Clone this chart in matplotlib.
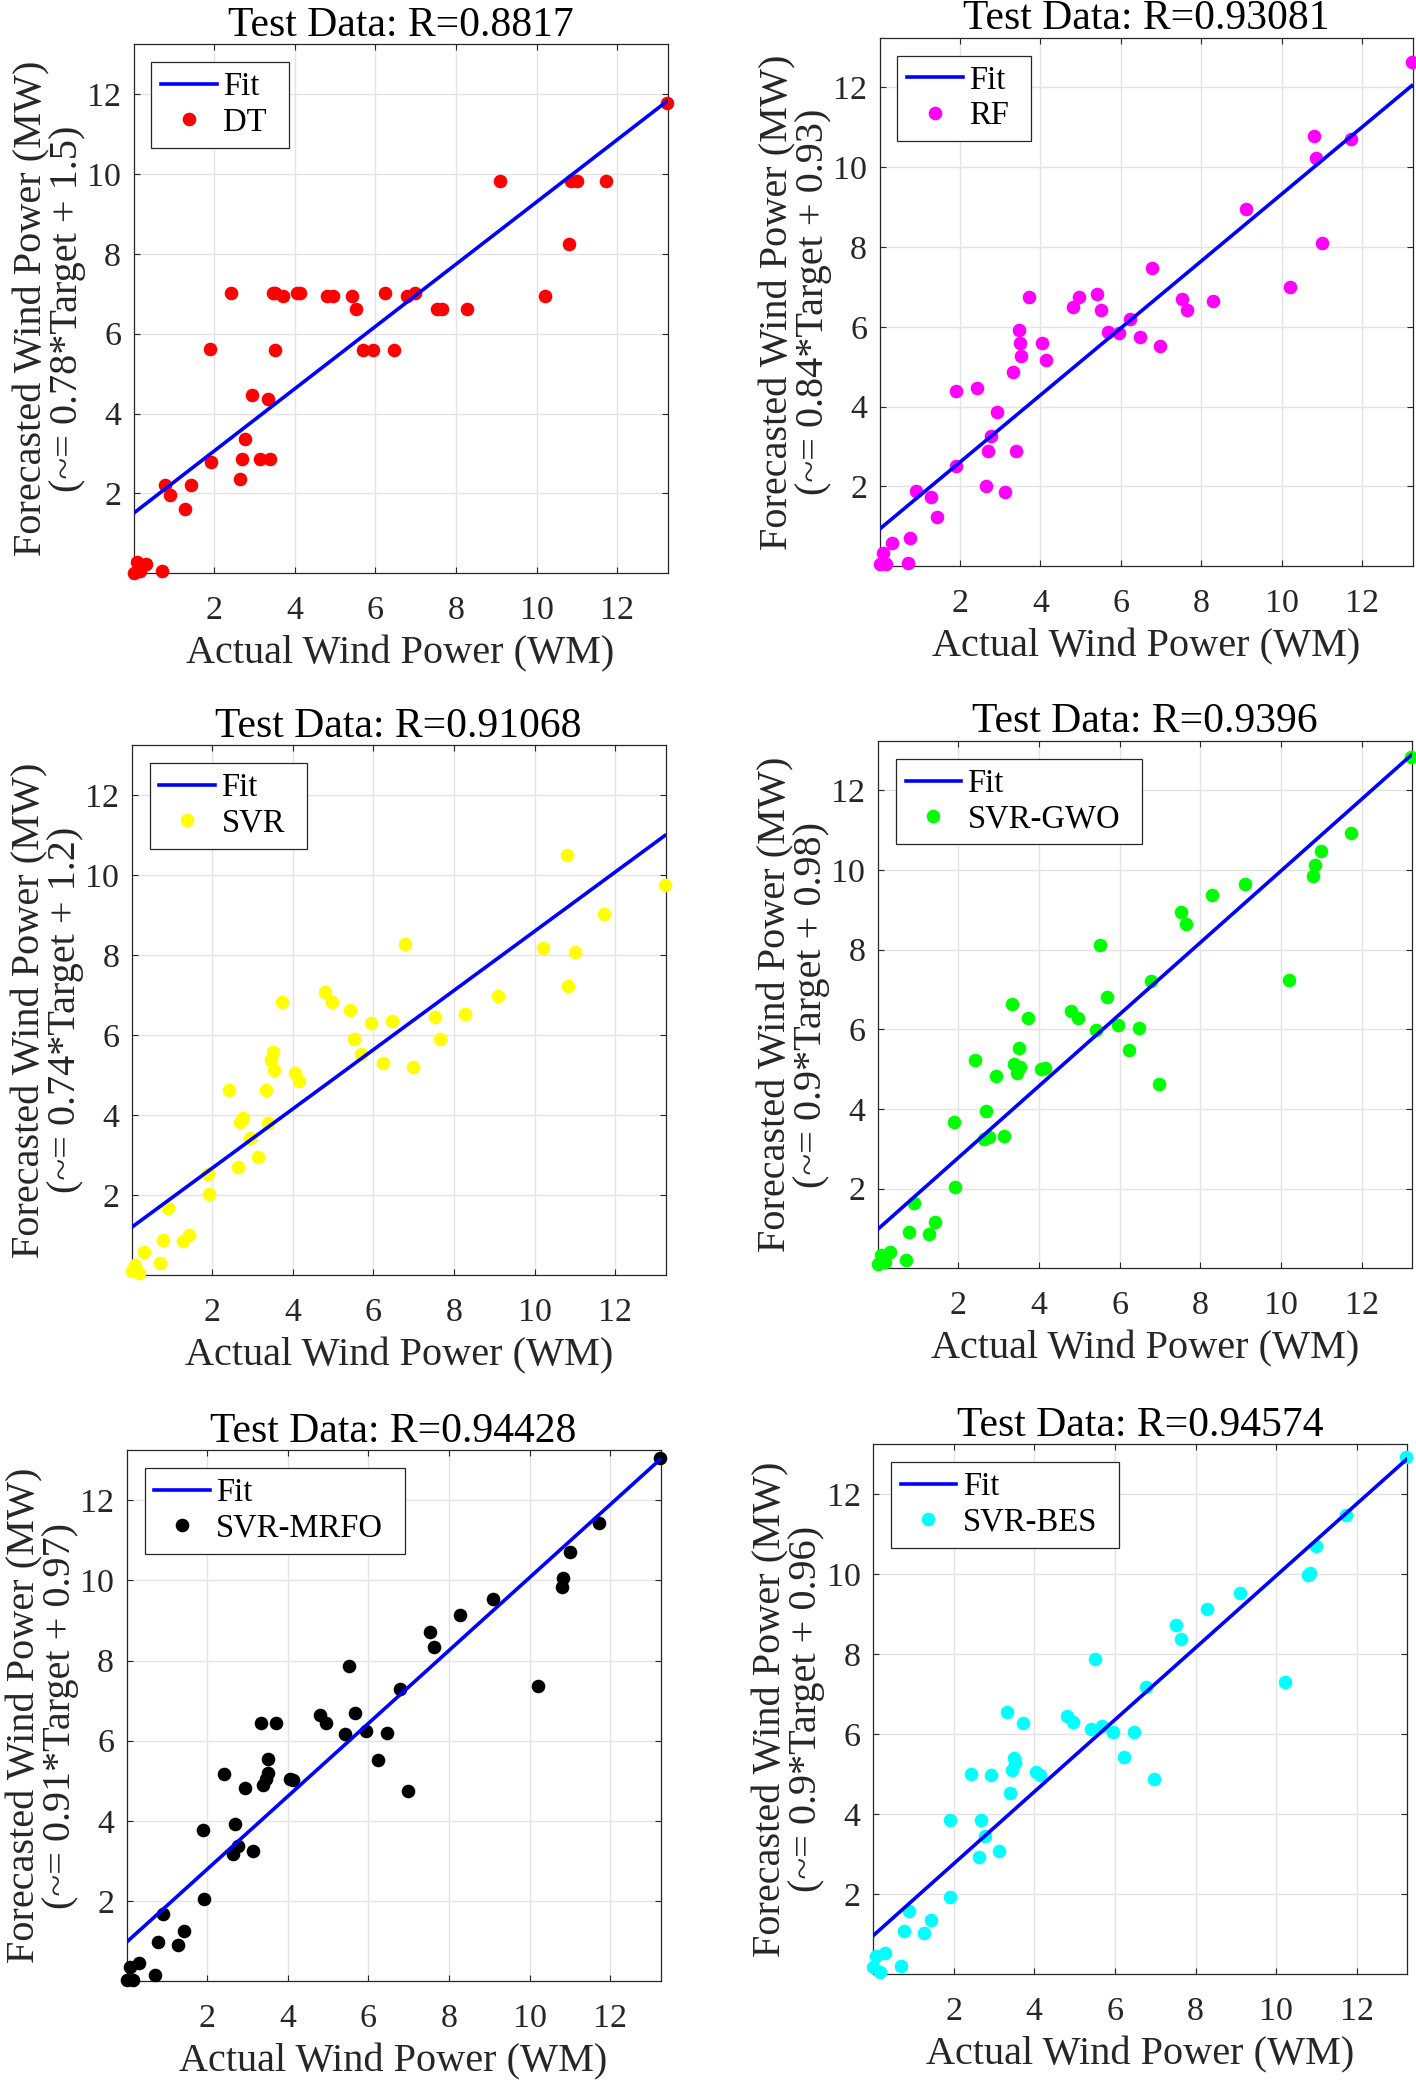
import numpy as np
import matplotlib
matplotlib.use("Agg")
import matplotlib.pyplot as plt

plt.rcParams['font.family'] = ['Liberation Serif', 'DejaVu Serif']

# ---------------- data ----------------
target = [0.00, 0.08, 0.17, 0.31, 0.70, 0.77, 0.90, 1.27, 1.43, 1.90, 1.91, 2.42, 2.64, 2.69,
          2.77, 2.93, 3.13, 3.33, 3.39, 3.46, 3.50, 3.52, 3.72, 4.05, 4.14, 4.80, 4.96, 5.41,
          5.51, 5.68, 5.95, 6.23, 6.47, 6.78, 6.98, 7.52, 7.64, 8.28, 9.10, 10.21, 10.80,
          10.84, 11.00, 11.73, 13.23]

dt = [0.00, 0.28, 0.06, 0.22, 0.06, 2.21, 1.97, 1.62, 2.21, 5.62, 2.78, 7.02, 2.37, 2.85,
      3.37, 4.47, 2.85, 4.37, 2.85, 7.02, 5.60, 7.02, 6.95, 7.02, 7.02, 6.95, 6.95, 6.95,
      6.62, 5.60, 5.60, 7.02, 5.60, 6.95, 7.02, 6.62, 6.62, 6.62, 9.83, 6.95, 8.24,
      9.83, 9.83, 9.83, 11.77]

rf = [0.05, 0.34, 0.05, 0.59, 0.09, 0.72, 1.89, 1.74, 1.24, 4.40, 2.52, 4.48, 2.00, 2.90,
      3.26, 3.86, 1.87, 4.87, 2.90, 5.92, 5.60, 5.27, 6.76, 5.60, 5.16, 6.50, 6.76, 6.83,
      6.42, 5.88, 5.84, 6.21, 5.74, 7.48, 5.52, 6.71, 6.42, 6.66, 8.96, 6.99, 10.78,
      10.24, 8.09, 10.71, 12.65]

svr = [0.10, 0.25, 0.05, 0.58, 0.30, 0.89, 1.69, 0.85, 1.00, 2.54, 2.03, 4.64, 2.70, 3.83,
       3.93, 3.42, 2.96, 4.63, 3.81, 5.39, 5.57, 5.14, 6.82, 5.06, 4.86, 7.07, 6.83, 6.63,
       5.90, 5.53, 6.30, 5.30, 6.36, 8.28, 5.20, 6.45, 5.90, 6.52, 6.97, 8.17, 10.50,
       7.24, 8.09, 9.02, 9.76]

gwo = [0.10, 0.33, 0.17, 0.41, 0.20, 0.92, 1.64, 0.87, 1.17, 3.68, 2.03, 5.23, 3.25, 3.94,
       3.30, 4.83, 3.33, 6.65, 5.12, 4.90, 5.54, 5.06, 6.28, 5.00, 5.02, 6.46, 6.29, 5.98,
       8.11, 6.81, 6.10, 5.47, 6.04, 7.21, 4.62, 8.94, 8.65, 9.37, 9.66, 7.25, 9.85,
       10.13, 10.48, 10.93, 12.85]

mrfo = [0.02, 0.34, 0.02, 0.44, 0.15, 0.97, 1.66, 0.91, 1.24, 3.78, 2.04, 5.17, 3.17, 3.91,
        3.37, 4.83, 3.25, 6.45, 4.89, 5.04, 5.20, 5.54, 6.43, 5.04, 5.02, 6.63, 6.45, 6.17,
        7.86, 6.70, 6.23, 5.52, 6.18, 7.28, 4.75, 8.71, 8.34, 9.14, 9.54, 7.37, 9.83,
        10.07, 10.72, 11.43, 13.06]

bes = [0.19, 0.45, 0.06, 0.52, 0.21, 1.08, 1.57, 1.02, 1.35, 3.86, 1.94, 5.00, 2.93, 3.85,
       3.46, 4.98, 3.07, 6.55, 4.52, 5.11, 5.40, 5.27, 6.29, 5.05, 4.97, 6.45, 6.30, 6.14,
       7.87, 6.21, 6.05, 5.43, 6.05, 7.17, 4.87, 8.72, 8.38, 9.14, 9.52, 7.31, 9.98,
       10.03, 10.71, 11.48, 12.94]

models = ['DT', 'RF', 'SVR', 'SVR-GWO', 'SVR-MRFO', 'SVR-BES']
outputs = [dt, rf, svr, gwo, mrfo, bes]
r_values = ['0.8817', '0.93081', '0.91068', '0.9396', '0.94428', '0.94574']
slopes = [0.78, 0.84, 0.74, 0.9, 0.91, 0.9]
intercepts = [1.5, 0.93, 1.2, 0.98, 0.97, 0.96]
intercept_txt = ['1.5', '0.93', '1.2', '0.98', '0.97', '0.96']
colors = ['#ff0000', '#ff00ff', '#ffff00', '#00ff00', '#000000', '#00ffff']
ticks = [2, 4, 6, 8, 10, 12]
tick_labels = ['2', '4', '6', '8', '10', '12']

# ---------------- layout (pixel boxes: left, top, right, bottom) ----------------
W, H = 1416, 2082
boxes = [(133.5, 44.2, 667.7, 573.2),
         (879.5, 37.6, 1412.5, 566.3),
         (131.7, 745.2, 665.6, 1275.3),
         (877.8, 740.7, 1412.0, 1268.3),
         (126.6, 1450.2, 660.5, 1981.0),
         (873.0, 1444.2, 1407.2, 1974.2)]

SERIF = ['Liberation Serif', 'DejaVu Serif']
fig = plt.figure(figsize=(W / 100, H / 100), dpi=100)
LIM = (0, 13.25)
leg_kw = dict(fontsize=23.5, frameon=True, fancybox=False, framealpha=1,
              edgecolor='#262626', borderpad=0.3, labelspacing=0.15, handlelength=1.7,
              handletextpad=0.2, numpoints=1)

axes = []
for i in range(6):
    l, t, r, b = boxes[i]
    ax = fig.add_axes([l / W, 1 - b / H, (r - l) / W, (b - t) / H])
    pts, = ax.plot(target, outputs[i], 'o', color=colors[i], markersize=9.8,
                   markeredgewidth=0, linestyle='none', clip_on=False, zorder=3,
                   label=models[i])
    xs = np.array([min(target), max(target)])
    fit, = ax.plot(xs, slopes[i] * xs + intercepts[i], '-', color='#0000ff',
                   linewidth=2.6, zorder=4, label='Fit')
    ax.set_xlim(*LIM)
    ax.set_ylim(*LIM)
    ax.set_xticks(ticks, labels=tick_labels, fontfamily=SERIF)
    ax.set_yticks(ticks, labels=tick_labels, fontfamily=SERIF)
    ax.grid(True, color='#e3e3e3', linewidth=1.0, zorder=0)
    ax.set_axisbelow(True)
    for s in ax.spines.values():
        s.set_color('#262626')
        s.set_linewidth(0.9)
    ax.tick_params(axis='both', direction='in', length=4, width=0.8, color='#262626',
                   top=True, right=True, labelsize=24.5, labelcolor='#262626')
    ax.tick_params(axis='x', pad=16)
    ax.tick_params(axis='y', pad=9)
    ax.set_title('Test Data: R=' + r_values[i], fontsize=30, pad=6, color='#000000')
    ax.set_xlabel('Actual Wind Power (WM)', fontsize=29, labelpad=7, color='#262626')
    ax.set_ylabel('Forecasted Wind Power (MW)\n(~= %s*Target + %s)'
                  % (('%g' % slopes[i]), intercept_txt[i]),
                  fontsize=29, labelpad=1, color='#262626', linespacing=0.95)
    leg = ax.legend(handles=[fit, pts], loc='upper left', borderaxespad=0.55, **leg_kw)
    axes.append((ax, fit, pts, leg))

# widen each legend box to the right like the reference
fig.canvas.draw()
renderer = fig.canvas.get_renderer()
extra_px = 12
for ax, fit, pts, leg in axes:
    bb = leg.get_window_extent(renderer)
    inv = ax.transAxes.inverted()
    (x0, y0), (x1, y1) = inv.transform([[bb.x0, bb.y0], [bb.x1 + extra_px, bb.y1]])
    leg.remove()
    newleg = ax.legend(handles=[fit, pts], loc='upper left',
                       bbox_to_anchor=(x0, y0, x1 - x0, y1 - y0), mode='expand',
                       borderaxespad=0, **leg_kw)
    newleg.get_frame().set_linewidth(0.9)

fig.savefig('out.png', dpi=100)
